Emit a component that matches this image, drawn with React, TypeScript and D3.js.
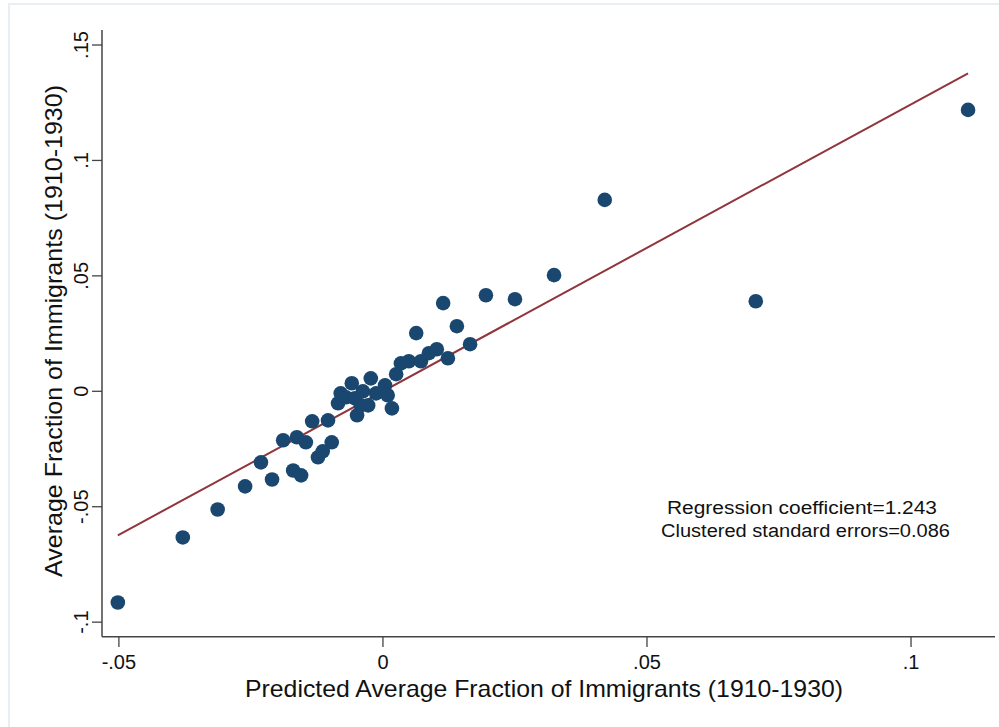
import React from 'react';
import * as d3 from 'd3';

// predicted (x) vs actual (y) average fraction of immigrants, 1910-1930
const predicted = [
  -0.0502, -0.0379, -0.0313, -0.0261, -0.0231, -0.021, -0.0189, -0.017, -0.0163, -0.0155,
  -0.0146, -0.0134, -0.0123, -0.0114, -0.0104, -0.0097, -0.0085, -0.008, -0.007, -0.0059,
  -0.0053, -0.0049, -0.0042, -0.0038, -0.0028, -0.0023, -0.0013, 0.0004, 0.0009, 0.0017,
  0.0025, 0.0034, 0.0049, 0.0063, 0.0072, 0.0087, 0.0102, 0.0114, 0.0123, 0.014,
  0.0165, 0.0195, 0.025, 0.0324, 0.042, 0.0706, 0.1108,
];
const actual = [
  -0.0915, -0.0633, -0.0512, -0.0412, -0.0308, -0.0382, -0.0212, -0.0343, -0.0199, -0.0364,
  -0.0221, -0.013, -0.0286, -0.026, -0.0126, -0.0221, -0.0052, -0.0009, -0.0026, 0.0035,
  -0.003, -0.0104, -0.0061, 0.0, -0.0061, 0.0056, -0.0009, 0.0026, -0.0017, -0.0074,
  0.0074, 0.0121, 0.013, 0.0252, 0.013, 0.0165, 0.0182, 0.0382, 0.0143, 0.0282,
  0.0204, 0.0416, 0.0399, 0.0503, 0.0829, 0.039, 0.1219,
];

const xTicks = [-0.05, 0, 0.05, 0.1];
const yTicks = [-0.1, -0.05, 0, 0.05, 0.1, 0.15];

const coefficient = 1.243;
const intercept = 0.0;
const annotation = ['Regression coefficient=1.243', 'Clustered standard errors=0.086'];

const fmt = (v: number) => (v === 0 ? '0' : String(v).replace('0.', '.'));

export default function App() {
  const width = 999;
  const height = 727;
  const font = 'Liberation Sans, Arial, sans-serif';

  const x = d3.scaleLinear().domain([-0.0532, 0.1159]).range([102, 995]);
  const y = d3.scaleLinear().domain([-0.1063, 0.1565]).range([636.7, 30]);

  const points = predicted.map((p, i) => ({ x: p, y: actual[i] }));
  const [xMin, xMax] = d3.extent(predicted) as [number, number];
  const fit = [xMin, xMax].map(v => ({ x: v, y: intercept + coefficient * v }));
  const line = d3.line<{ x: number; y: number }>().x(d => x(d.x)).y(d => y(d.y));

  const axisColor = '#444';

  return (
    <div style={{ position: 'fixed', left: 0, top: 0 }}>
      <svg width={width} height={height} style={{ display: 'block', background: '#fff' }}>
        {/* faint outer frame */}
        <rect x={9} y={4} width={1010} height={740} fill="none" stroke="#e8eef1" strokeWidth={2} />

        {/* axes */}
        <line x1={x.range()[0]} x2={x.range()[0]} y1={y.range()[0]} y2={y.range()[1]} stroke={axisColor} strokeWidth={1.5} />
        <line x1={x.range()[0]} x2={x.range()[1]} y1={y.range()[0]} y2={y.range()[0]} stroke={axisColor} strokeWidth={1.5} />

        {yTicks.map(t => (
          <g key={'y' + t}>
            <line x1={92} x2={102} y1={y(t)} y2={y(t)} stroke={axisColor} strokeWidth={1.3} />
            <text
              transform={`translate(88,${y(t)}) rotate(-90)`}
              textAnchor="middle"
              fontFamily={font}
              fontSize={20}
              fill="#111"
            >
              {fmt(t)}
            </text>
          </g>
        ))}

        {xTicks.map(t => (
          <g key={'x' + t}>
            <line x1={x(t)} x2={x(t)} y1={636.7} y2={647} stroke={axisColor} strokeWidth={1.3} />
            <text x={x(t)} y={669} textAnchor="middle" fontFamily={font} fontSize={20} fill="#111">
              {fmt(t)}
            </text>
          </g>
        ))}

        {/* axis titles */}
        <text
          x={544}
          y={697}
          textAnchor="middle"
          fontFamily={font}
          fontSize={24}
          textLength={598}
          lengthAdjust="spacingAndGlyphs"
          fill="#111"
        >
          Predicted Average Fraction of Immigrants (1910-1930)
        </text>
        <text
          transform="translate(62,331) rotate(-90)"
          textAnchor="middle"
          fontFamily={font}
          fontSize={24}
          textLength={492}
          lengthAdjust="spacingAndGlyphs"
          fill="#111"
        >
          Average Fraction of Immigrants (1910-1930)
        </text>

        {/* fitted line */}
        <path d={line(fit) || ''} fill="none" stroke="#90353b" strokeWidth={2} />

        {/* points */}
        {points.map((d, i) => (
          <circle key={i} cx={x(d.x)} cy={y(d.y)} r={7.3} fill="#1a476f" />
        ))}

        {/* annotation */}
        <text x={667} y={514} fontFamily={font} fontSize={18} textLength={270} lengthAdjust="spacingAndGlyphs" fill="#111">
          {annotation[0]}
        </text>
        <text x={661} y={537} fontFamily={font} fontSize={18} textLength={289} lengthAdjust="spacingAndGlyphs" fill="#111">
          {annotation[1]}
        </text>
      </svg>
    </div>
  );
}
